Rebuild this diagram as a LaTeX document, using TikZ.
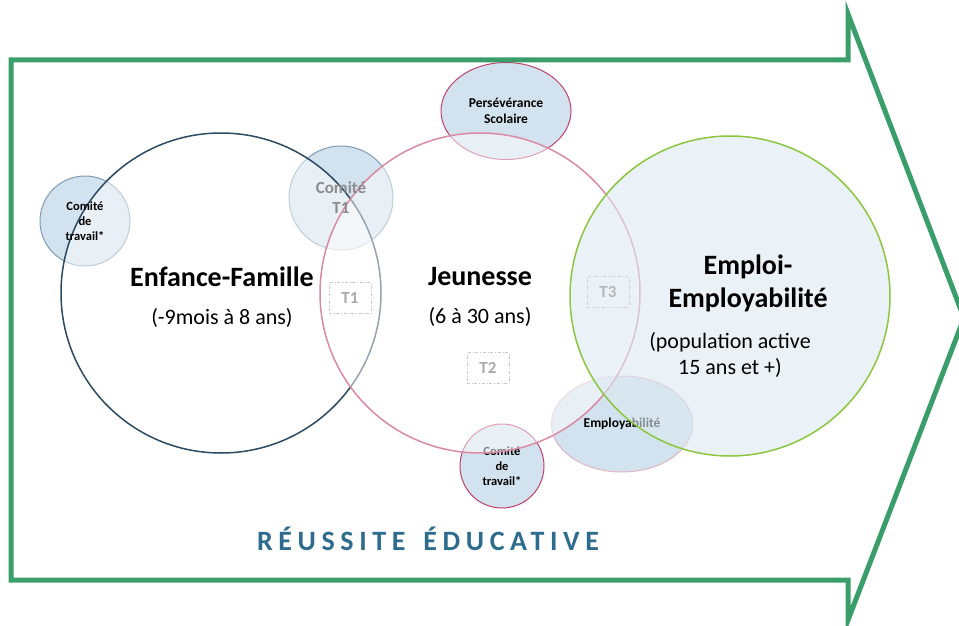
\documentclass[tikz,border=0pt]{standalone}
\usepackage{fontspec}
\setmainfont{Carlito}
\usetikzlibrary{shapes.geometric, positioning}
\definecolor{arrowgreen}{HTML}{3A9E6A}
\definecolor{enfanceblue}{HTML}{2C4A63}
\definecolor{jeunessepink}{HTML}{D98BA3}
\definecolor{emploigreen}{HTML}{8CC63E}
\definecolor{bubblefill}{HTML}{D2E2EE}
\definecolor{bubbleline}{HTML}{7F9CB4}
\definecolor{rosedark}{HTML}{C0406E}
\definecolor{roselight}{HTML}{E2B3C3}
\definecolor{titleblue}{HTML}{2E6C8E}
\tikzset{
    bigcircle/.style={circle, line width=1.5pt, minimum size=320pt, inner sep=0pt}, % the three age groups
    bubble/.style={circle, fill=bubblefill, line width=1pt, inner sep=0pt, align=center,
                   font=\bfseries\fontsize{12.5}{15}\selectfont}, % small committees
    tbox/.style={draw=black!22, dash dot, line width=0.8pt, minimum width=42pt, minimum height=31pt,
                 text=black!33, font=\bfseries\fontsize{17}{18}\selectfont}, % T1, T2, T3
    grouptitle/.style={font=\bfseries\fontsize{28}{33}\selectfont, align=center},
    groupsub/.style={font=\fontsize{22}{26}\selectfont, align=center},
}
\begin{document}
\begin{tikzpicture}[x=1pt, y=-1pt]
\useasboundingbox (0,0) rectangle (959,626);
% small committees (below the big circles)
\node[bubble, draw=bubbleline, minimum size=90pt] (comite1) at (85,221) {};
\node[bubble, draw=bubbleline, minimum size=104pt] (comiteT1) at (341,198) {};
\node[bubble, ellipse, draw=rosedark, minimum width=130pt, minimum height=97pt,
      font=\bfseries\fontsize{13.5}{16}\selectfont] (perseverance) at (506,111) {Persévérance\\Scolaire};
\node[bubble, draw=rosedark, minimum size=84pt] (comite2) at (502,466) {Comité\\de\\travail*};
\node[bubble, ellipse, draw=roselight, minimum width=141pt, minimum height=96pt,
      font=\bfseries\fontsize{13.5}{16}\selectfont] (employabilite) at (622,424) {Employabilité};
% the three big circles
\node[bigcircle, draw=enfanceblue, fill=white, fill opacity=0.5] (enfance) at (221,293) {};
\node[bigcircle, draw=jeunessepink, fill=white, fill opacity=0.5] (jeunesse) at (480,293) {};
\node[bigcircle, draw=emploigreen, fill=bubblefill!75, fill opacity=0.6] (emploi) at (730,296) {};
\node[align=center, font=\bfseries\fontsize{12.5}{15}\selectfont] (comite1text) at (comite1) {Comité\\de\\travail*};
\node[align=center, text=black!45, font=\bfseries\fontsize{17}{20}\selectfont] (comiteT1text) at (comiteT1) {Comité\\T1};
\node[tbox] (t1) at (350,298) {T1};
\node[tbox] (t2) at (488,368) {T2};
\node[tbox, draw=black!18, text=black!28] (t3) at (608,292) {T3};
% texts of the big circles
\node[grouptitle] (enfancetitle) at (222,277) {Enfance-Famille};
\node[groupsub, below=14pt of enfancetitle] (enfanceage) {(-9mois à 8 ans)};
\node[grouptitle] (jeunessetitle) at (480,277) {Jeunesse};
\node[groupsub, below=14pt of jeunessetitle] (jeunesseage) {(6 à 30 ans)};
\node[grouptitle] (emploititle) at (748,283) {Emploi-\\Employabilité};
\node[groupsub, below=14pt of emploititle, xshift=-18pt] (emploiage) {(population active\\15 ans et +)};
% banner
\node[text=titleblue, font=\bfseries\fontsize{28}{32}\selectfont\addfontfeature{LetterSpace=20}]
      (reussite) at (428,539) {RÉUSSITE\hspace{6pt} ÉDUCATIVE};
\draw[arrowgreen, line width=5pt, line join=miter]
      (11,60) -- (848,60) -- (848,14) -- (964,318) -- (848,620) -- (848,580) -- (11,580) -- cycle;
\end{tikzpicture}
\end{document}
